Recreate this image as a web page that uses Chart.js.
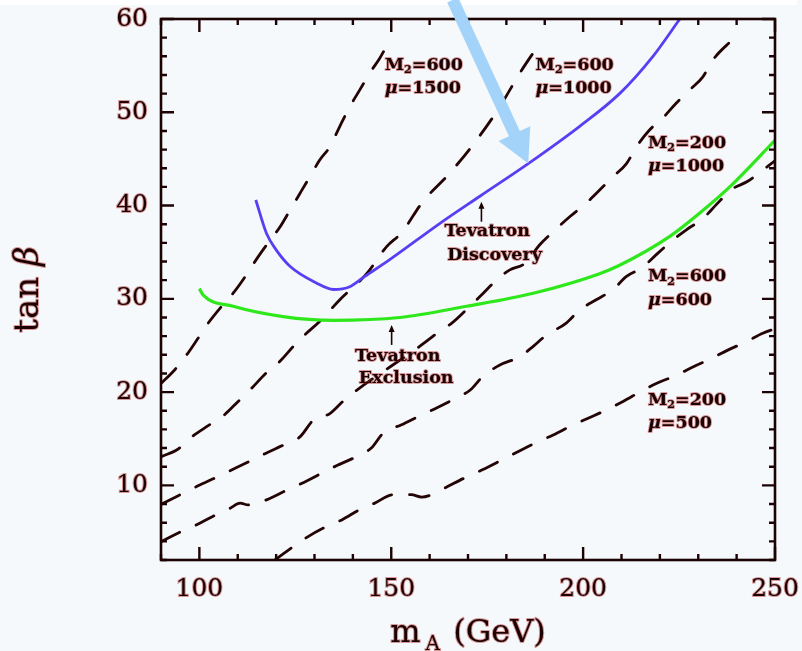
<!DOCTYPE html>
<html>
<head>
<meta charset="utf-8">
<script src="https://cdn.jsdelivr.net/npm/chart.js@4.4.1/dist/chart.umd.min.js"></script>
<style>
  html, body { margin: 0; padding: 0; background: #f5f9fb; }
  #wrap { width: 802px; height: 651px; position: relative; }
  canvas { display: block; }
</style>
</head>
<body>
<div id="wrap"><canvas id="chart" width="802" height="651"></canvas></div>
<script>
// ---- Data: m_A (GeV) along x, tan(beta) along y ----

// Tevatron exclusion contour
const exclusionMA   = [100, 101, 108.8, 121.8, 134.9, 152.2, 169.6, 187, 204.3, 209.5, 222.6, 230.4, 238.2, 250];
const exclusionTanB = [31.1, 30.4, 29.2, 28.1, 27.7, 28.0, 29.2, 30.6, 32.7, 33.6, 36.7, 39.2, 42.0, 47.0];

// Tevatron discovery contour
const discoveryMA   = [114.7, 117.5, 120.1, 123.6, 130.5, 134.9, 139.2, 143.1, 149.6, 162.7, 173.1, 185.7, 199.1, 209.5, 218.2, 225.2];
const discoveryTanB = [40.6, 37.0, 35.2, 33.5, 31.7, 31.0, 31.3, 32.4, 34.2, 38.1, 41.0, 44.5, 48.5, 52.0, 56.0, 60.0];

// M2 = 600, mu = 1500
const m600mu1500MA   = [90.2, 93.6, 96.7, 99.7, 102.3, 105.8, 108.8, 112.3, 115.3, 117.9, 121, 123.6, 126.2, 128.8, 131.4, 134, 136.6, 139.2, 141.8, 144.4, 147, 149.6];
const m600mu1500TanB = [21.0, 22.4, 24.0, 25.8, 27.4, 29.2, 30.6, 32.6, 34.5, 36.0, 37.7, 39.5, 41.3, 43.1, 44.9, 46.3, 48.5, 50.6, 52.4, 54.2, 55.8, 57.7];

// M2 = 600, mu = 1000
const m600mu1000MA   = [90.2, 94.5, 98, 102.3, 106.2, 110.1, 113.6, 117.3, 121, 124.5, 127.9, 131.4, 136.6, 143.6, 148.8, 152.7, 158.2, 165.3, 172.2, 178.3, 183.5, 188.7];
const m600mu1000TanB = [13.1, 13.9, 15.2, 16.4, 17.45, 19.0, 20.4, 22.0, 23.3, 24.9, 26.3, 27.6, 29.9, 32.7, 35.6, 37.1, 40.4, 43.5, 47.0, 50.6, 54.2, 57.4];

// M2 = 200, mu = 1000
const m200mu1000MA   = [90.2, 94.5, 98.9, 103.6, 107.9, 112.7, 117.1, 121.8, 126.2, 129.7, 134, 137.9, 157.4, 162.2, 166.1, 170.5, 173.5, 177.4, 180.9, 184.8, 188.7, 192.2, 196.5, 200.8, 203.4, 207.8, 211.3, 213.9, 217.3, 220.8, 224.3, 227.8, 231.2, 233.8, 237.4, 240];
const m200mu1000TanB = [8.0, 8.9, 9.8, 10.7, 11.55, 12.5, 13.4, 14.3, 15.2, 17.0, 17.7, 19.2, 24.9, 26.4, 27.5, 29.2, 30.4, 32.0, 33.1, 33.8, 35.8, 37.2, 38.8, 40.25, 41.3, 43.1, 44.5, 46.3, 48.1, 49.4, 51.0, 52.4, 53.8, 55.6, 57.2, 58.1];

// M2 = 600, mu = 600
const m600mu600MA   = [90.2, 94.5, 98.9, 103.6, 108, 110.6, 112.7, 117.5, 122.3, 126.6, 131.4, 135.7, 140.5, 144.8, 147.9, 152.7, 157.4, 161.8, 166.6, 170.5, 173.9, 178.3, 183.5, 187, 190.4, 195.6, 199.1, 203.4, 207.8, 211.3, 215.2, 219.5, 223.4, 226.9, 231.2, 234.7, 238.6, 242.9, 246.8, 250];
const m600mu600TanB = [4.0, 4.9, 5.7, 6.7, 7.55, 8.1, 7.9, 8.45, 9.4, 10.2, 11.2, 12.1, 13.0, 14.0, 15.6, 16.5, 17.45, 18.3, 19.3, 20.2, 21.7, 22.9, 23.8, 24.9, 26.1, 27.4, 28.8, 29.9, 31.0, 32.4, 33.3, 34.9, 36.3, 37.4, 38.6, 40.1, 41.7, 42.6, 43.8, 44.8];

// M2 = 200, mu = 500
const m200mu500MA   = [119.7, 124, 127.9, 132.7, 137.1, 141.8, 145.7, 150.5, 155.2, 157.9, 160.5, 164.8, 169.6, 173.9, 178.7, 183, 187.8, 192.2, 197, 201.3, 206.1, 210.4, 215.2, 219.5, 224.3, 228.6, 233.4, 237.7, 242.5, 246.8, 250];
const m200mu500TanB = [2.0, 3.3, 4.4, 5.5, 6.3, 7.4, 8.1, 9.0, 9.0, 8.75, 9.0, 9.9, 10.9, 11.7, 12.7, 13.6, 14.6, 15.4, 16.4, 17.2, 18.1, 19.0, 20.1, 21.0, 21.8, 22.7, 23.6, 24.5, 25.4, 26.3, 26.8];

// Labelled tick values
const xTickLabels = [100, 150, 200, 250];
const yTickLabels = [10, 20, 30, 40, 50, 60];

// ---- Styling / placement ----
const INK = '#1c0202';
const HALO = 'rgba(185,35,35,0.45)';
const DASH_COLOR = '#240404';
const DASH = [20, 18];

function pairs(xs, ys) { return xs.map((x, i) => ({ x: x, y: ys[i] })); }

function dashedSet(xs, ys) {
  return {
    data: pairs(xs, ys),
    borderColor: DASH_COLOR,
    borderWidth: 2.8,
    borderDash: DASH,
    borderCapStyle: 'round',
    pointRadius: 0,
    showLine: true,
    cubicInterpolationMode: 'monotone'
  };
}

// contour captions, anchored in data coordinates (left edge, first-line centre)
const captions = [
  { m2: '600', mu: '1500', x: 148.3, y: 55.05 },
  { m2: '600', mu: '1000', x: 187.6, y: 55.05 },
  { m2: '200', mu: '1000', x: 216.9, y: 46.65 },
  { m2: '600', mu: '600',  x: 216.9, y: 32.35 },
  { m2: '200', mu: '500',  x: 216.9, y: 19.15 }
];

// "Tevatron ..." notes with small upward arrows (data coordinates)
const notes = [
  { lines: ['Tevatron', 'Discovery'], cx: [175.0, 176.9], cy: [37.2, 34.7], ax: 173.5, ayFrom: 38.27, ayTo: 40.42 },
  { lines: ['Tevatron', 'Exclusion'], cx: [151.7, 153.9], cy: [23.8, 21.5], ax: 150.1, ayFrom: 25.06, ayTo: 27.2 }
];

// big pointer: from above the frame down onto the discovery contour
const pointer = { fromX: 166.0, fromY: 62.05, toIndex: 11 };

function haloText(ctx, t, x, y, w) {
  ctx.lineJoin = 'round';
  ctx.lineWidth = w || 1.8;
  ctx.strokeStyle = HALO;
  ctx.strokeText(t, x, y);
  ctx.fillStyle = INK;
  ctx.fillText(t, x, y);
}

// keep the plot frame exactly where the axes say, regardless of label overhang
function noOverhang(s) {
  s.paddingLeft = 0; s.paddingRight = 0; s.paddingTop = 0; s.paddingBottom = 0;
}

const decor = {
  id: 'decor',
  beforeDraw(chart) {
    const ctx = chart.ctx;
    ctx.save();
    ctx.fillStyle = '#f5f9fb';
    ctx.fillRect(0, 0, chart.width, chart.height);
    ctx.fillStyle = '#ffffff';
    ctx.fillRect(0, 0, 797, 5);
    ctx.restore();
  },
  afterDraw(chart) {
    const ctx = chart.ctx;
    const a = chart.chartArea;
    const xs = chart.scales.x, ys = chart.scales.y;

    ctx.save();
    // frame
    ctx.strokeStyle = INK;
    ctx.lineWidth = 2.6;
    ctx.strokeRect(a.left, a.top, a.right - a.left, a.bottom - a.top);

    // inward ticks on all four sides
    ctx.lineWidth = 2.4;
    ctx.beginPath();
    xs.ticks.forEach(t => {
      const px = xs.getPixelForValue(t.value);
      const len = (t.value % 50 === 0) ? 13 : 6;
      ctx.moveTo(px, a.bottom); ctx.lineTo(px, a.bottom - len);
      ctx.moveTo(px, a.top); ctx.lineTo(px, a.top + len);
    });
    ys.ticks.forEach(t => {
      const py = ys.getPixelForValue(t.value);
      const len = (t.value % 10 === 0) ? 13 : 6;
      ctx.moveTo(a.left, py); ctx.lineTo(a.left + len, py);
      ctx.moveTo(a.right, py); ctx.lineTo(a.right - len, py);
    });
    ctx.stroke();

    // axis titles
    ctx.textBaseline = 'alphabetic';
    const tf = '32px "DejaVu Serif"';
    // x title: m_A (GeV)
    ctx.font = tf;
    const wm = ctx.measureText('m').width;
    ctx.font = '20px "DejaVu Serif"';
    const wA = ctx.measureText('A').width;
    ctx.font = tf;
    const wG = ctx.measureText(' (GeV)').width;
    const gap = 5;
    const total = wm + gap + wA + 3 + wG;
    let x0 = (a.left + a.right) / 2 - total / 2;
    const by = 642;
    ctx.textAlign = 'left';
    haloText(ctx, 'm', x0, by, 2);
    ctx.font = '20px "DejaVu Serif"';
    haloText(ctx, 'A', x0 + wm + gap, by + 8, 2);
    ctx.font = tf;
    haloText(ctx, ' (GeV)', x0 + wm + gap + wA + 3, by, 2);

    // y title: tan beta (rotated)
    const yf = '34px "DejaVu Serif"';
    const yfi = 'italic 34px "DejaVu Serif"';
    ctx.save();
    ctx.translate(38, (a.top + a.bottom) / 2);
    ctx.rotate(-Math.PI / 2);
    ctx.font = yf;
    const wt = ctx.measureText('tan ').width;
    ctx.font = yfi;
    const wb = ctx.measureText('\u03b2').width;
    const s0 = -(wt + wb) / 2;
    ctx.font = yf;
    haloText(ctx, 'tan ', s0, 0, 2);
    ctx.font = yfi;
    haloText(ctx, '\u03b2', s0 + wt, 0, 2);
    ctx.restore();

    // contour captions
    ctx.textBaseline = 'middle';
    captions.forEach(c => {
      const px = xs.getPixelForValue(c.x);
      const py = ys.getPixelForValue(c.y);
      ctx.font = 'bold 17.5px "DejaVu Serif"';
      haloText(ctx, 'M', px, py);
      const w1 = ctx.measureText('M').width;
      ctx.font = 'bold 11px "DejaVu Serif"';
      haloText(ctx, '2', px + w1, py + 5);
      const w2 = ctx.measureText('2').width;
      ctx.font = 'bold 17.5px "DejaVu Serif"';
      haloText(ctx, '=' + c.m2, px + w1 + w2, py);
      const py2 = py + 23.3;
      ctx.font = 'italic bold 17.5px "DejaVu Serif"';
      haloText(ctx, '\u03bc', px, py2);
      const wmu = ctx.measureText('\u03bc').width;
      ctx.font = 'bold 17.5px "DejaVu Serif"';
      haloText(ctx, '=' + c.mu, px + wmu, py2);
    });

    // Tevatron notes
    ctx.textAlign = 'center';
    notes.forEach(n => {
      ctx.font = 'bold 17.5px "DejaVu Serif"';
      n.lines.forEach((t, i) => {
        haloText(ctx, t, xs.getPixelForValue(n.cx[i]), ys.getPixelForValue(n.cy[i]));
      });
      const ax = xs.getPixelForValue(n.ax);
      const y1 = ys.getPixelForValue(n.ayFrom);
      const y2 = ys.getPixelForValue(n.ayTo);
      ctx.strokeStyle = INK;
      ctx.lineWidth = 1.6;
      ctx.beginPath();
      ctx.moveTo(ax, y1); ctx.lineTo(ax, y2 + 4);
      ctx.stroke();
      ctx.fillStyle = INK;
      ctx.beginPath();
      ctx.moveTo(ax, y2);
      ctx.lineTo(ax - 3, y2 + 7);
      ctx.lineTo(ax + 3, y2 + 7);
      ctx.closePath();
      ctx.fill();
    });

    // big light-blue pointer
    const tipPt = { x: discoveryMA[pointer.toIndex], y: discoveryTanB[pointer.toIndex] };
    const tx = xs.getPixelForValue(tipPt.x), ty = ys.getPixelForValue(tipPt.y);
    const fx = xs.getPixelForValue(pointer.fromX), fy = ys.getPixelForValue(pointer.fromY);
    const dx = tx - fx, dy = ty - fy;
    const L = Math.hypot(dx, dy);
    const ux = dx / L, uy = dy / L;
    const nx = -uy, ny = ux;
    const headLen = 33, headHalf = 17.5, shaftHalf = 6;
    const bx = tx - ux * headLen, by2 = ty - uy * headLen;
    ctx.fillStyle = '#a4d3fa';
    ctx.beginPath();
    ctx.moveTo(fx + nx * shaftHalf, fy + ny * shaftHalf);
    ctx.lineTo(bx + nx * shaftHalf, by2 + ny * shaftHalf);
    ctx.lineTo(bx + nx * headHalf, by2 + ny * headHalf);
    ctx.lineTo(tx, ty);
    ctx.lineTo(bx - nx * headHalf, by2 - ny * headHalf);
    ctx.lineTo(bx - nx * shaftHalf, by2 - ny * shaftHalf);
    ctx.lineTo(fx - nx * shaftHalf, fy - ny * shaftHalf);
    ctx.closePath();
    ctx.fill();

    ctx.restore();
  }
};

new Chart(document.getElementById('chart'), {
  type: 'scatter',
  data: {
    datasets: [
      { data: pairs(discoveryMA, discoveryTanB), borderColor: '#5a3ef4', borderWidth: 2.8, pointRadius: 0, showLine: true, cubicInterpolationMode: 'monotone' },
      { data: pairs(exclusionMA, exclusionTanB), borderColor: '#2ee81c', borderWidth: 3.2, pointRadius: 0, showLine: true, cubicInterpolationMode: 'monotone' },
      dashedSet(m600mu1500MA, m600mu1500TanB),
      dashedSet(m600mu1000MA, m600mu1000TanB),
      dashedSet(m200mu1000MA, m200mu1000TanB),
      dashedSet(m600mu600MA, m600mu600TanB),
      dashedSet(m200mu500MA, m200mu500TanB)
    ]
  },
  options: {
    responsive: false,
    devicePixelRatio: 1,
    animation: false,
    events: [],
    layout: { padding: { left: 0, right: 27, top: 19, bottom: 0 } },
    plugins: { legend: { display: false }, tooltip: { enabled: false } },
    scales: {
      x: {
        type: 'linear',
        min: 90, max: 250,
        grid: { display: false, drawTicks: false },
        border: { display: false },
        ticks: {
          stepSize: 10,
          autoSkip: false,
          maxRotation: 0,
          padding: 14,
          color: INK,
          textStrokeColor: HALO,
          textStrokeWidth: 2,
          font: { family: '"DejaVu Serif"', size: 25 },
          callback: v => xTickLabels.includes(v) ? String(v) : ''
        },
        afterFit: s => { s.height = 91; noOverhang(s); }
      },
      y: {
        type: 'linear',
        min: 2, max: 60,
        grid: { display: false, drawTicks: false },
        border: { display: false },
        ticks: {
          stepSize: 2,
          autoSkip: false,
          padding: 13,
          color: INK,
          textStrokeColor: HALO,
          textStrokeWidth: 2,
          font: { family: '"DejaVu Serif"', size: 25 },
          callback: v => yTickLabels.includes(v) ? String(v) : ''
        },
        afterFit: s => { s.width = 161; noOverhang(s); }
      }
    }
  },
  plugins: [decor]
});
</script>
</body>
</html>
